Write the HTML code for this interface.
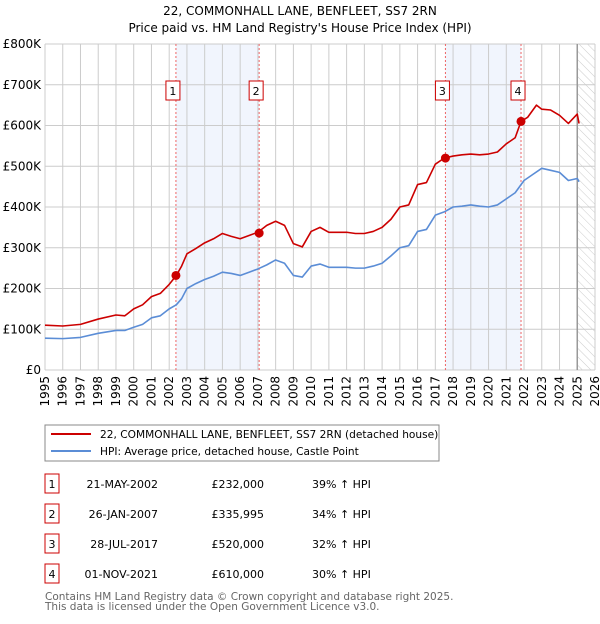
<!DOCTYPE html>
<html><head><meta charset="utf-8"><style>
body{margin:0;background:#fff;font-family:"DejaVu Sans","Liberation Sans",sans-serif;}
svg text{font-family:"DejaVu Sans","Liberation Sans",sans-serif;}
</style></head><body>
<svg id="chart" width="600" height="620" xmlns="http://www.w3.org/2000/svg">
<defs><pattern id="hatch" width="6" height="6" patternUnits="userSpaceOnUse" patternTransform="rotate(-45)"><line x1="0" y1="0" x2="0" y2="6" stroke="#ccc" stroke-width="1"/></pattern></defs>
<text x="300" y="15" text-anchor="middle" font-size="12">22, COMMONHALL LANE, BENFLEET, SS7 2RN</text>
<text x="300" y="32" text-anchor="middle" font-size="12">Price paid vs. HM Land Registry's House Price Index (HPI)</text>
<g id="plot"></g>
<g>
<rect x="45" y="425" width="394" height="36" fill="#fff" stroke="#888"/>
<line x1="51" y1="434" x2="91" y2="434" stroke="#cc0000" stroke-width="2"/>
<text x="100" y="438" font-size="10.6">22, COMMONHALL LANE, BENFLEET, SS7 2RN (detached house)</text>
<line x1="51" y1="451" x2="91" y2="451" stroke="#5b8dd6" stroke-width="2"/>
<text x="100" y="455" font-size="10.6">HPI: Average price, detached house, Castle Point</text>
</g>
<g id="table"></g>
<text x="45" y="600" font-size="10.5" fill="#666">Contains HM Land Registry data © Crown copyright and database right 2025.</text>
<text x="45" y="610" font-size="10.5" fill="#666">This data is licensed under the Open Government Licence v3.0.</text>
</svg>
<script>
const hpiYears=[1995,1996,1997,1998,1999,1999.5,2000,2000.5,2001,2001.5,2002,2002.4,2002.7,2003,2003.5,2004,2004.5,2005,2005.5,2006,2006.5,2007,2007.5,2008,2008.5,2009,2009.5,2010,2010.5,2011,2012,2012.5,2013,2013.5,2014,2014.5,2015,2015.5,2016,2016.5,2017,2017.5,2018,2018.5,2019,2019.5,2020,2020.5,2021,2021.5,2022,2022.5,2023,2023.5,2024,2024.5,2025,2025.1];
const hpiValues=[78,77,80,90,97,97,105,112,128,133,150,160,175,200,212,222,230,240,237,232,240,248,258,270,262,232,228,255,260,252,252,250,250,255,262,280,300,305,340,345,380,388,400,402,405,402,400,405,420,435,465,480,495,490,485,465,470,462];
const priceYears=[1995,1996,1997,1998,1999,1999.5,2000,2000.5,2001,2001.5,2002,2002.4,2002.7,2003,2003.5,2004,2004.5,2005,2005.5,2006,2006.5,2007,2007.5,2008,2008.5,2009,2009.5,2010,2010.5,2011,2012,2012.5,2013,2013.5,2014,2014.5,2015,2015.5,2016,2016.5,2017,2017.5,2018,2018.5,2019,2019.5,2020,2020.5,2021,2021.5,2021.83,2022.2,2022.7,2023,2023.5,2024,2024.5,2025,2025.1];
const priceValues=[110,108,112,125,135,133,150,160,180,188,210,232,255,285,298,312,322,335,328,322,330,338,355,365,355,310,302,340,350,338,338,335,335,340,350,370,400,405,455,460,505,520,525,528,530,528,530,535,555,570,610,620,650,640,638,625,605,628,605];
const saleLabels=["1","2","3","4"];
const saleYears=[2002.38,2007.07,2017.57,2021.83];
const saleValues=[232,335.995,520,610];
const saleDates=["21-MAY-2002","26-JAN-2007","28-JUL-2017","01-NOV-2021"];
const salePrices=["£232,000","£335,995","£520,000","£610,000"];
const saleDiffs=["39% ↑ HPI","34% ↑ HPI","32% ↑ HPI","30% ↑ HPI"];
const yTicks=[0,100,200,300,400,500,600,700,800];
const yTickLabels=["£0","£100K","£200K","£300K","£400K","£500K","£600K","£700K","£800K"];
const xTicks=[1995,1996,1997,1998,1999,2000,2001,2002,2003,2004,2005,2006,2007,2008,2009,2010,2011,2012,2013,2014,2015,2016,2017,2018,2019,2020,2021,2022,2023,2024,2025,2026];
const NS="http://www.w3.org/2000/svg";
const L=45,R=595,T=44,B=370;
const xS=y=>L+(y-1995)/31*(R-L);
const yS=v=>B-v/800*(B-T);
const plot=document.getElementById('plot');
function mk(tag,attrs,parent){const e=document.createElementNS(NS,tag);for(const k in attrs)e.setAttribute(k,attrs[k]);(parent||plot).appendChild(e);return e;}
for(let i=0;i<4;i+=2){
 const b=mk('rect',{x:xS(saleYears[i]),y:T,width:xS(saleYears[i+1])-xS(saleYears[i]),height:B-T,fill:'#eef3fc',opacity:0.8});
 
 
}
const h=mk('rect',{x:xS(2025),y:T,width:R-xS(2025),height:B-T,fill:'url(#hatch)'});


yTicks.forEach((v,i)=>{
 const g=mk('line',{x1:L,x2:R,y1:yS(v),y2:yS(v),stroke:'#ccc','stroke-width':1});
 
 
 const t=mk('text',{x:L-4,y:yS(v)+4,'text-anchor':'end','font-size':12});
 
 
 t.textContent=yTickLabels[i];
});
xTicks.forEach(y=>{
 const g=mk('line',{x1:xS(y),x2:xS(y),y1:T,y2:B,stroke:'#ccc','stroke-width':1});
 
 
 const t=mk('text',{x:0,y:0,'text-anchor':'end','font-size':12,transform:`translate(${xS(y)+4},${B+6}) rotate(-90)`});
 
 
 t.textContent=y;
});
const nl=mk('line',{x1:xS(2025),x2:xS(2025),y1:T,y2:B,stroke:'#999','stroke-width':1.5});


saleYears.forEach((y,i)=>{
 const l=mk('line',{x1:xS(y),x2:xS(y),y1:T,y2:B,stroke:'#ee6666','stroke-width':1,'stroke-dasharray':'2,2'});
 
 
});
function line(xs,vs,col,name){
 const p=mk('polyline',{points:xs.map((x,i)=>xS(x)+','+yS(vs[i])).join(' '),fill:'none',stroke:col,'stroke-width':1.6,'stroke-linejoin':'round'});
 
 
}
line(hpiYears,hpiValues,'#5b8dd6','hpi-line');
line(priceYears,priceValues,'#cc0000','price-line');
saleYears.forEach((y,i)=>{
 const c=mk('circle',{cx:xS(y),cy:yS(saleValues[i]),r:4.5,fill:'#cc0000'});
 
 
 const bx=mk('rect',{x:xS(y)-10,y:81,width:14,height:19,fill:'#fff',stroke:'#cc0000'});
 
 
 const t=mk('text',{x:xS(y)-3,y:95,'text-anchor':'middle','font-size':11});
 
 
 t.textContent=saleLabels[i];
});
const tb=document.getElementById('table');
saleLabels.forEach((s,i)=>{
 const y=482+i*30;
 const bx=mk('rect',{x:45,y:y-8,width:14,height:19,fill:'#fff',stroke:'#cc0000'},tb);
 
 
 const cells=[[52,s,'middle'],[158,saleDates[i],'end'],[264,salePrices[i],'end'],[312,saleDiffs[i],'start']];
 cells.forEach(c=>{
  const t=mk('text',{x:c[0],y:y+6,'text-anchor':c[2],'font-size':11},tb);
  
  
  t.textContent=c[1];
 });
});
</script>
</body></html>
